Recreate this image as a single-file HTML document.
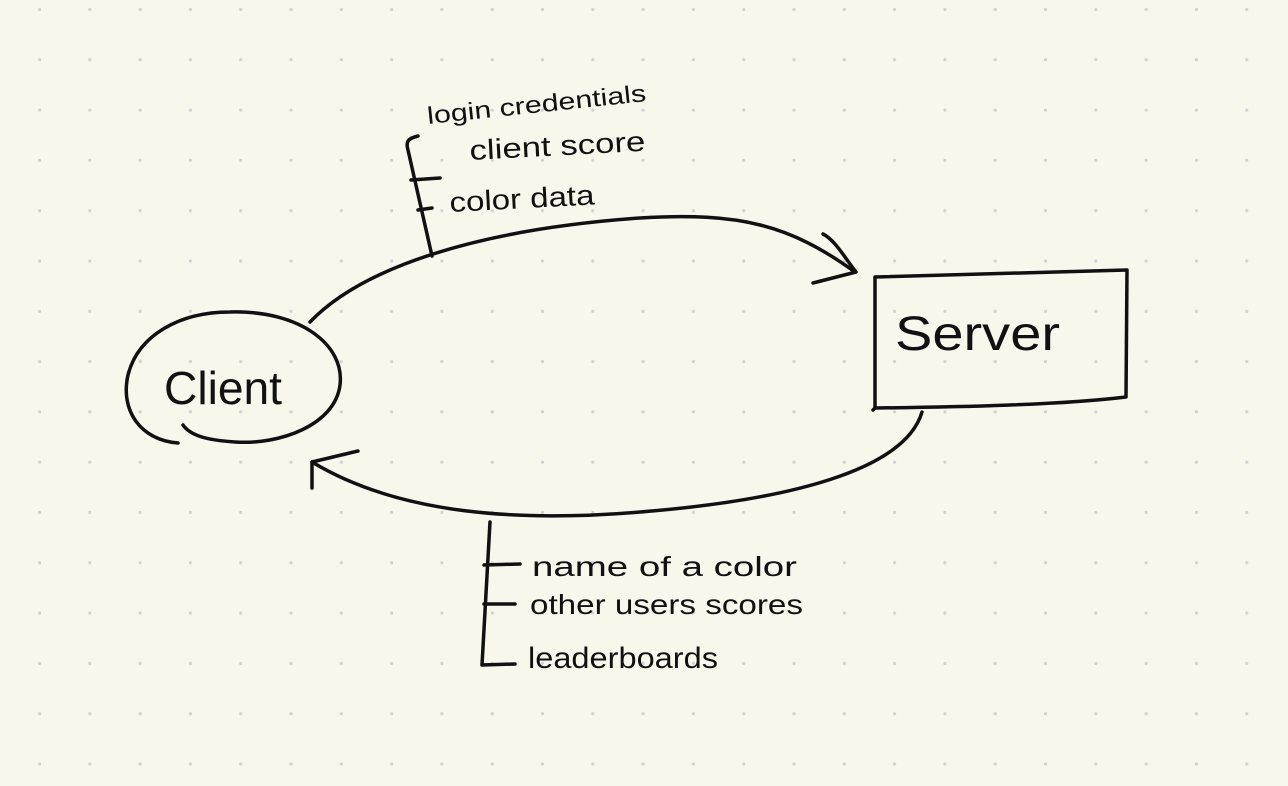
<!DOCTYPE html>
<html><head><style>
html,body{margin:0;padding:0;}
body{width:1288px;height:786px;background:#f7f7ec;overflow:hidden;}
svg{display:block}
text{font-family:"Liberation Sans",sans-serif;fill:#111;}
</style></head><body>
<svg width="1288" height="786" viewBox="0 0 1288 786">
<defs><pattern id="d" x="39.5" y="9.5" width="50.3" height="50.3" patternUnits="userSpaceOnUse"><circle cx="0" cy="0" r="1.6" fill="#d2d2d6"/><circle cx="50.3" cy="0" r="1.6" fill="#d2d2d6"/><circle cx="0" cy="50.3" r="1.6" fill="#d2d2d6"/><circle cx="50.3" cy="50.3" r="1.6" fill="#d2d2d6"/></pattern></defs>
<rect width="1288" height="786" fill="url(#d)"/>
<g fill="none" stroke="#111" stroke-width="3.5" stroke-linecap="round" stroke-linejoin="round">
<path d="M178 443 C140 440 120 410 128 375 C138 335 180 312 230 312 C300 310 345 345 340 385 C335 425 280 445 235 442 C205 440 190 435 183 425"/>
<path d="M875 277 L1127 270 L1126 397 C1060 405 960 407 875 408 Z"/>
<path d="M875 408 L873 410"/>
<path d="M310 322 C360 270 470 230 640 218 C740 212 790 225 855 272"/>
<path d="M823 234 C835 240 845 258 856 272 L813 283"/>
<path d="M922 412 C905 470 790 500 640 512 C520 522 400 515 312 462"/>
<path d="M312 488 L312 462 L358 451"/>
<path d="M432 256 L408 150 C405 140 410 138 418 136"/>
<path d="M411 180 L440 178"/>
<path d="M418 210 L432 208"/>
<path d="M490 522 L482 665 L515 664"/>
<path d="M484 565 L520 564"/>
<path d="M484 604 L515 604"/>
</g>
<text x="895" y="350" font-size="48" textLength="165" lengthAdjust="spacingAndGlyphs">Server</text>
<text x="164" y="404" font-size="46" textLength="118" lengthAdjust="spacingAndGlyphs">Client</text>
<text x="428" y="124" font-size="24" transform="rotate(-6 428 124)" textLength="220" lengthAdjust="spacingAndGlyphs">login credentials</text>
<text x="470" y="160" font-size="28" transform="rotate(-3 470 160)" textLength="176" lengthAdjust="spacingAndGlyphs">client score</text>
<text x="450" y="212" font-size="28" transform="rotate(-3 450 212)" textLength="145" lengthAdjust="spacingAndGlyphs">color data</text>
<text x="532" y="576" font-size="28" textLength="265" lengthAdjust="spacingAndGlyphs">name  of  a color</text>
<text x="530" y="614" font-size="28" textLength="273" lengthAdjust="spacingAndGlyphs">other users scores</text>
<text x="528" y="668" font-size="30" textLength="190" lengthAdjust="spacingAndGlyphs">leaderboards</text>
</svg>
</body></html>
